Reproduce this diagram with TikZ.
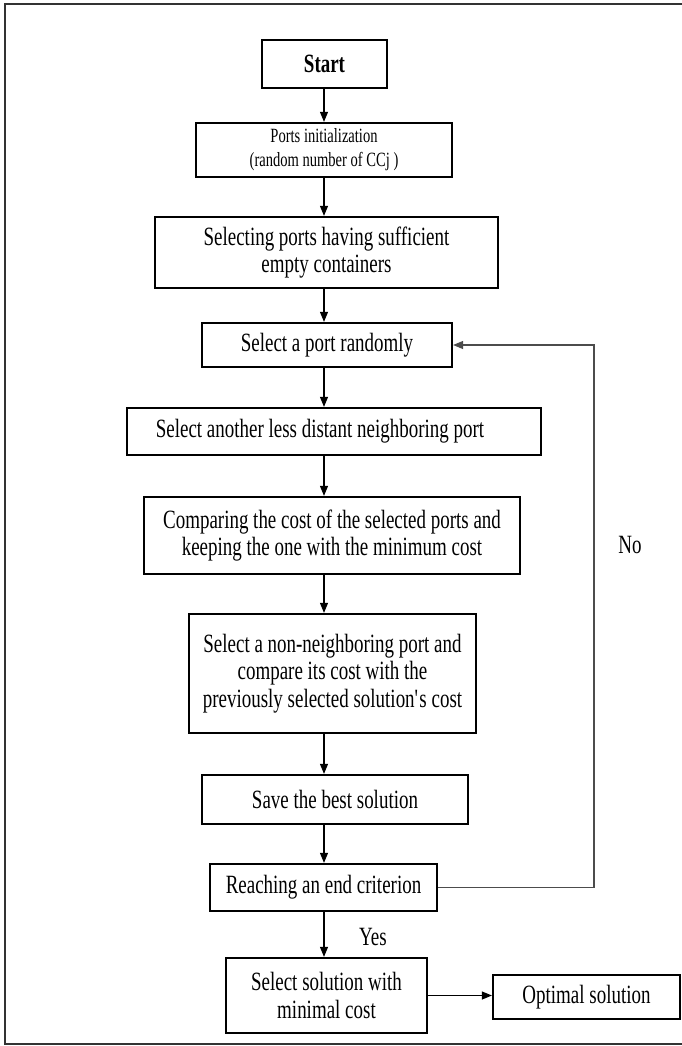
\documentclass[tikz,border=0pt]{standalone}
\usepackage{fontspec}
\setmainfont{Liberation Serif}[FakeStretch=0.72]
\usetikzlibrary{arrows.meta,positioning}

\begin{document}
\begin{tikzpicture}[
  x=0.02cm, y=-0.02cm,
  txt/.style={font=\fontsize{15}{15.5}\selectfont},
  box/.style={draw=black, line width=1.3pt, align=center, inner sep=2pt, txt},
  arr/.style={-{Triangle[length=0.2cm,width=0.16cm]}, line width=0.6pt},
  fb/.style={arr, draw=black!70},
]
\useasboundingbox (0,0) rectangle (682,1046);

%% outer frame (right side runs off the page)
\draw[black!80, line width=1.2pt] (682,4) -- (5,4) -- (5,1044) -- (682,1044);

%% ====================================================
%% Main column
%% ====================================================
\coordinate (ax) at (324,0);

\node[box, minimum width=2.5cm, minimum height=0.96cm,
      font=\fontsize{15}{15.5}\selectfont\bfseries] (start) at (324.5,64) {Start};
\node[box, minimum width=5.12cm, minimum height=1.08cm,
      font=\fontsize{11.5}{13.6}\selectfont] (init) at (324,150) {Ports initialization\\(random number of CCj )};
\node[box, minimum width=6.86cm, minimum height=1.42cm] (sel) at (326.5,252.5) {Selecting ports having sufficient\\empty containers};
\node[box, minimum width=5.0cm, minimum height=0.88cm] (rand) at (327,345) {Select a port randomly};
\node[box, minimum width=8.28cm, minimum height=0.94cm] (near) at (334,431.5) {Select another less distant neighboring port\hspace*{0.56cm}};
\node[box, minimum width=7.52cm, minimum height=1.54cm] (comp) at (332,535.5) {Comparing the cost of the selected ports and\\keeping the one with the minimum cost};
\node[box, minimum width=5.74cm, minimum height=2.38cm] (far) at (332.5,673.5) {Select a non-neighboring port and\\compare its cost with the\\previously selected solution\textquotesingle s cost};
\node[box, minimum width=5.32cm, minimum height=0.98cm] (save) at (335,799.5) {Save the best solution};
\node[box, minimum width=4.54cm, minimum height=0.94cm] (reach) at (323.5,887.5) {Reaching an end criterion};
\node[box, minimum width=4.02cm, minimum height=1.5cm] (best) at (326.5,995.5) {Select solution with\\minimal cost};
\node[box, minimum width=3.74cm, minimum height=0.88cm] (opt) at (586.5,997) {Optimal solution};

%% Downward arrows
\foreach \a/\b in {start/init, init/sel, sel/rand, rand/near, near/comp,
                   comp/far, far/save, save/reach, reach/best} {
  \draw[arr] (\a.south -| ax) -- (\b.north -| ax);
}
\draw[arr] (best.east) -- (best.east -| opt.west);

%% Loop back
\coordinate (loopx) at (594,345);
\draw[fb] (reach.east) -- (reach.east -| loopx) |- (rand.east);

%% Labels
\node[txt] (no) at (630,545) {No};
\node[txt] (yes) at (373,937) {Yes};

\end{tikzpicture}
\end{document}
